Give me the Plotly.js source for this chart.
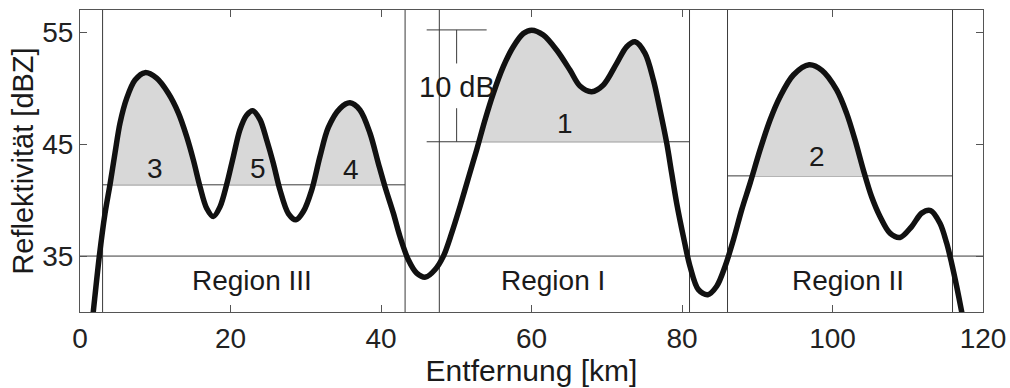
<!DOCTYPE html>
<html>
<head>
<meta charset="utf-8">
<script src="https://cdn.plot.ly/plotly-3.0.1.min.js"></script>
<style>html,body{margin:0;padding:0;background:#fff;}#chart{width:1010px;height:388px;}</style>
</head>
<body>
<div id="chart"></div>
<script>
// Distance along the radar beam [km] and reflectivity [dBZ]
const distance_km = [1.6, 1.77, 2.57, 3.32, 3.99, 4.65, 5.32, 6.2, 7.31, 8.64, 10.19, 11.74, 13.07, 14.17, 15.06, 15.95, 16.83, 17.72, 18.6, 19.49, 20.38, 21.26, 22.15, 22.95, 23.92, 24.8, 25.69, 26.58, 27.69, 28.7, 29.68, 30.79, 31.89, 33.0, 34.55, 35.88, 37.2, 38.54, 39.64, 40.53, 41.64, 42.52, 43.63, 44.74, 45.93, 47.17, 48.28, 49.39, 50.5, 51.6, 52.71, 53.82, 54.93, 56.25, 57.58, 58.91, 60.02, 61.57, 63.34, 65.11, 66.44, 68.0, 69.55, 71.32, 72.65, 73.76, 75.09, 76.2, 77.08, 77.97, 78.63, 79.3, 80.18, 81.07, 82.18, 83.42, 84.61, 85.72, 86.83, 87.93, 89.04, 90.37, 91.7, 93.03, 94.8, 96.9, 98.6, 100.55, 101.88, 102.99, 104.1, 105.2, 106.31, 107.64, 108.97, 110.52, 111.85, 113.04, 114.28, 115.17, 115.83, 116.5, 117.16, 117.5];
const reflectivity_dBZ = [29.0, 30.05, 35.0, 38.8, 41.4, 44.2, 46.9, 49.1, 50.74, 51.4, 50.9, 49.55, 47.8, 45.7, 43.6, 41.2, 39.28, 38.54, 39.4, 41.4, 43.9, 46.3, 47.6, 48.0, 47.2, 45.4, 43.3, 40.9, 38.8, 38.24, 38.98, 40.9, 43.9, 46.5, 48.2, 48.7, 48.06, 45.98, 43.3, 41.2, 38.84, 36.75, 34.67, 33.48, 33.12, 33.78, 34.97, 37.05, 39.43, 41.96, 44.49, 47.17, 49.55, 51.93, 53.72, 54.9, 55.2, 54.76, 53.42, 51.63, 50.2, 49.7, 50.3, 52.23, 53.72, 54.16, 53.12, 50.74, 48.06, 45.1, 42.4, 39.7, 36.75, 34.07, 32.0, 31.55, 32.3, 34.07, 36.45, 39.13, 41.5, 44.49, 47.17, 49.25, 51.19, 52.1, 51.6, 49.85, 47.76, 45.4, 42.7, 40.3, 38.54, 37.05, 36.66, 37.64, 38.84, 39.07, 37.94, 36.16, 34.37, 32.29, 30.05, 28.9];

// Regions: names, boundaries [km], thresholds [dBZ], label positions
const region_names = ["Region III", "Region I", "Region II"];
const region_start_km = [3.0, 47.75, 86.05];
const region_end_km = [43.2, 81.0, 115.95];
const region_threshold_dBZ = [41.37, 45.22, 42.17];
const region_threshold_start_km = [3.0, 46.07, 86.05];
const region_label_x = [22.8, 62.8, 102.0];
const base_threshold_dBZ = 35;

// Cell labels
const cell_labels = ["3", "5", "4", "1", "2"];
const cell_label_x = [9.97, 23.7, 35.97, 64.45, 97.98];
const cell_label_y = [42.85, 42.85, 42.75, 46.87, 43.9];

// 10 dB scale bar
const scale_bar_x = 50.05;
const scale_bar_from_x = 46.07;
const scale_bar_to_x = 54.04;
const scale_bar_dB = 10;

// Axis ticks
const x_ticks = [0, 20, 40, 60, 80, 100, 120];
const y_ticks = [35, 45, 55];

const FONT = "Liberation Sans, Arial, Helvetica, sans-serif";
const traces = [];

// Shaded areas above each region threshold (one polygon per lobe)
region_names.forEach((name, r) => {
  const t = region_threshold_dBZ[r], a = region_start_km[r], b = region_end_km[r];
  let poly = null;
  for (let i = 0; i < distance_km.length; i++) {
    const x = distance_km[i], y = reflectivity_dBZ[i];
    if (x < a || x > b) continue;
    const px = distance_km[i - 1], py = reflectivity_dBZ[i - 1];
    if (y >= t) {
      if (!poly) {
        poly = {x: [], y: []};
        if (py !== undefined && py < t) {
          const xc = px + (t - py) * (x - px) / (y - py);
          poly.x.push(xc); poly.y.push(t);
        }
      }
      poly.x.push(x); poly.y.push(y);
    } else if (poly) {
      const xc = px + (t - py) * (x - px) / (y - py);
      poly.x.push(xc); poly.y.push(t);
      traces.push({type: "scatter", mode: "lines", x: poly.x, y: poly.y, fill: "toself",
        fillcolor: "#d8d8d8", line: {width: 0, color: "rgba(0,0,0,0)"}, hoverinfo: "skip", showlegend: false});
      poly = null;
    }
  }
});

// Reflectivity curve
traces.push({type: "scatter", mode: "lines", x: distance_km, y: reflectivity_dBZ,
  line: {color: "#111", width: 5.5, shape: "spline", smoothing: 0.9}, showlegend: false, name: "Reflektivität"});

const lineStyle = {color: "#3a3a3a", width: 1};
const shapes = [];
// base threshold over the whole plot
shapes.push({type: "line", xref: "x", yref: "y", x0: x_ticks[0], x1: x_ticks[x_ticks.length - 1], y0: base_threshold_dBZ, y1: base_threshold_dBZ, line: lineStyle, layer: "below"});
region_names.forEach((name, r) => {
  shapes.push({type: "line", xref: "x", yref: "paper", x0: region_start_km[r], x1: region_start_km[r], y0: 0, y1: 1, line: lineStyle, layer: "below"});
  shapes.push({type: "line", xref: "x", yref: "paper", x0: region_end_km[r], x1: region_end_km[r], y0: 0, y1: 1, line: lineStyle, layer: "below"});
  shapes.push({type: "line", xref: "x", yref: "y", x0: region_threshold_start_km[r], x1: region_end_km[r], y0: region_threshold_dBZ[r], y1: region_threshold_dBZ[r], line: lineStyle, layer: "below"});
});
// 10 dB scale bar (above Region I threshold)
const sb0 = region_threshold_dBZ[1], sb1 = region_threshold_dBZ[1] + scale_bar_dB;
shapes.push({type: "line", xref: "x", yref: "y", x0: scale_bar_from_x, x1: scale_bar_to_x, y0: sb1, y1: sb1, line: lineStyle, layer: "below"});
shapes.push({type: "line", xref: "x", yref: "y", x0: scale_bar_x, x1: scale_bar_x, y0: sb1, y1: sb1 - 3.0, line: lineStyle, layer: "below"});
shapes.push({type: "line", xref: "x", yref: "y", x0: scale_bar_x, x1: scale_bar_x, y0: sb0 + 3.0, y1: sb0, line: lineStyle, layer: "below"});

const annotations = [];
region_names.forEach((name, r) => {
  annotations.push({x: region_label_x[r], y: 32.85, xref: "x", yref: "y", text: name, showarrow: false,
    font: {family: FONT, size: 28, color: "#1a1a1a"}});
});
cell_labels.forEach((lab, i) => {
  annotations.push({x: cell_label_x[i], y: cell_label_y[i], xref: "x", yref: "y", text: lab, showarrow: false,
    font: {family: FONT, size: 28, color: "#1a1a1a"}});
});
annotations.push({x: scale_bar_x, y: (sb0 + sb1) / 2 - 0.08, xref: "x", yref: "y", text: scale_bar_dB + " dB", showarrow: false,
  font: {family: FONT, size: 29, color: "#1a1a1a"}});

const axisCommon = {
  showline: true, linecolor: "#555", linewidth: 1, mirror: "ticks",
  ticks: "inside", ticklen: 7, tickwidth: 1, tickcolor: "#555",
  showgrid: false, zeroline: false,
  tickfont: {family: FONT, size: 28, color: "#222"}
};

const layout = {
  width: 1010, height: 388,
  margin: {l: 80, r: 27, t: 10, b: 76},
  paper_bgcolor: "#fff", plot_bgcolor: "#fff",
  showlegend: false,
  xaxis: Object.assign({}, axisCommon, {range: [0, 120], tickvals: x_ticks, ticktext: x_ticks.map(String),
    ticklabelstandoff: 1,
    title: {text: "Entfernung [km]", font: {family: FONT, size: 30, color: "#1a1a1a"}, standoff: 0}}),
  yaxis: Object.assign({}, axisCommon, {range: [30, 57], tickvals: y_ticks, ticktext: y_ticks.map(String),
    title: {text: "Reflektivität [dBZ]", font: {family: FONT, size: 29, color: "#1a1a1a"}, standoff: 0}}),
  shapes: shapes,
  annotations: annotations
};

Plotly.newPlot("chart", traces, layout, {displayModeBar: false, staticPlot: true});
</script>
</body>
</html>
